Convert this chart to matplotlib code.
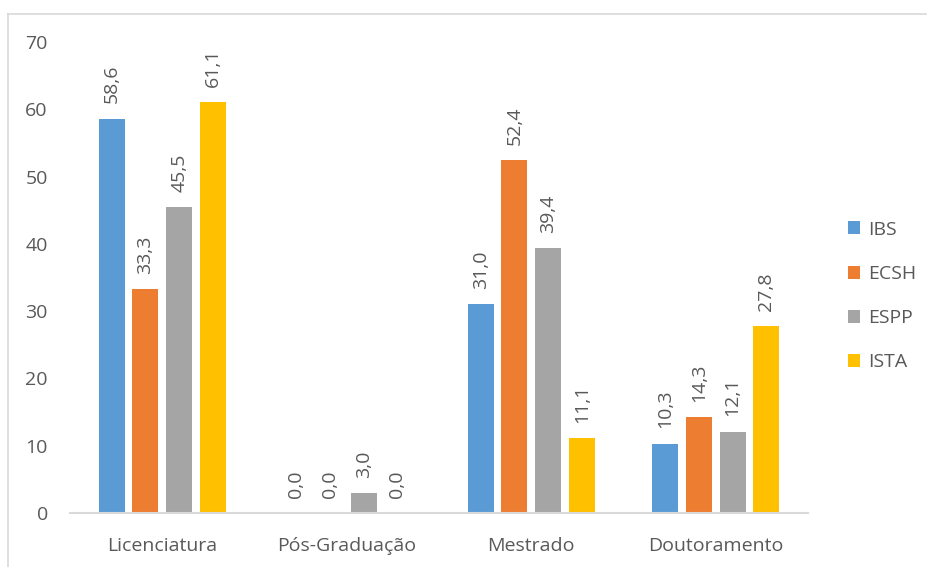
import matplotlib.pyplot as plt
import numpy as np
from matplotlib.lines import Line2D

# data
categories = ['Licenciatura', 'Pós-Graduação', 'Mestrado', 'Doutoramento']
series = ['IBS', 'ECSH', 'ESPP', 'ISTA']
ibs = [58.6, 0.0, 31.0, 10.3]
ecsh = [33.3, 0.0, 52.4, 14.3]
espp = [45.5, 3.0, 39.4, 12.1]
ista = [61.1, 0.0, 11.1, 27.8]
colors = ['#5B9BD5', '#ED7D31', '#A5A5A5', '#FFC000']

plt.rcParams['font.family'] = ['Open Sans', 'DejaVu Sans']
text_color = '#595959'
line_color = '#D9D9D9'

fig = plt.figure(figsize=(9.27, 5.67), dpi=100)
ax = fig.add_axes([70 / 927, 54 / 567, 738 / 927, 471 / 567])

x = np.arange(len(categories))
pitch = 0.183
width = 0.142
for i, (name, vals) in enumerate(zip(series, [ibs, ecsh, espp, ista])):
    pos = x + (i - 1.5) * pitch
    ax.bar(pos, vals, width, color=colors[i], label=name)
    for xp, v in zip(pos, vals):
        ax.annotate(f'{v:.1f}'.replace('.', ','), (xp, v),
                    xytext=(0, 11), textcoords='offset points',
                    rotation=90, ha='center', va='bottom',
                    fontsize=14, color=text_color)

ax.set_xlim(-0.5, len(categories) - 0.5)
ax.set_ylim(0, 70)
ax.set_yticks(range(0, 71, 10))
ax.set_xticks(x)
ax.set_xticklabels(categories)
ax.tick_params(length=0, labelsize=14, colors=text_color)
ax.tick_params(axis='x', pad=17)
ax.tick_params(axis='y', pad=16)
for s in ['top', 'right', 'left']:
    ax.spines[s].set_visible(False)
ax.spines['bottom'].set_color(line_color)
ax.spines['bottom'].set_linewidth(1.5)

ax.legend(loc='center left', bbox_to_anchor=(830 / 927, (567 - 296) / 567),
          bbox_transform=fig.transFigure, frameon=False,
          fontsize=14, labelcolor=text_color, handlelength=0.65,
          handleheight=0.65, handletextpad=0.4, labelspacing=1.35)

# chart border (top and left edges visible)
fig.add_artist(Line2D([8 / 927, 8 / 927], [0, 1 - 14 / 567],
                      transform=fig.transFigure, color=line_color, lw=1.2))
fig.add_artist(Line2D([8 / 927, 1], [1 - 14 / 567, 1 - 14 / 567],
                      transform=fig.transFigure, color=line_color, lw=1.2))

fig.savefig('out.png', dpi=100)
